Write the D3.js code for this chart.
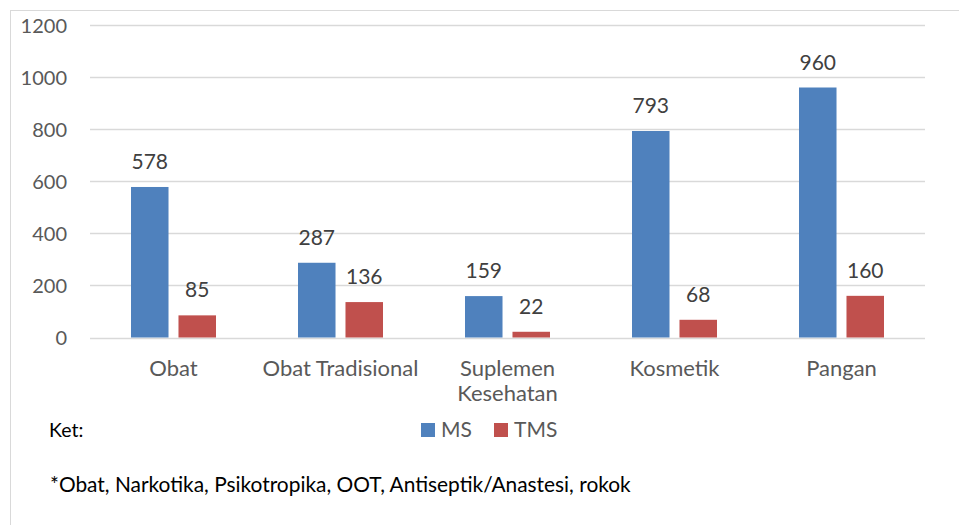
<!doctype html>
<html lang="en">
<head>
    <meta charset="UTF-8">
    <title>MS vs TMS</title>
    <script type="text/javascript" src="https://cdn.jsdelivr.net/npm/d3@7"></script>
    <style type="text/css">
        body { margin: 0; background: #fff; }
        svg { font-family: Lato, sans-serif; }
    </style>
</head>
<body>
<script type="text/javascript">
    var categories = ["Obat", "Obat Tradisional", "Suplemen Kesehatan", "Kosmetik", "Pangan"];
    var categoryLines = [["Obat"], ["Obat Tradisional"], ["Suplemen", "Kesehatan"], ["Kosmetik"], ["Pangan"]];
    var seriesNames = ["MS", "TMS"];
    var msValues = [578, 287, 159, 793, 960];
    var tmsValues = [85, 136, 22, 68, 160];
    var yTicks = [0, 200, 400, 600, 800, 1000, 1200];
    var colors = ["#4F81BD", "#C0504D"];

    var w = 959, h = 525;
    var plotLeft = 90, plotRight = 925, plotTop = 25, plotBottom = 337.5;

    var svg = d3.select("body").append("svg").attr("width", w).attr("height", h);

    // outer frame
    svg.append("rect").attr("x", 10.5).attr("y", 10.5).attr("width", 960).attr("height", 530)
        .attr("fill", "none").attr("stroke", "#d9d9d9").attr("stroke-width", 1);

    var x = d3.scaleBand().domain(categories).range([plotLeft, plotRight]);
    var xInner = d3.scaleBand().domain(seriesNames)
        .range([x.bandwidth() / 2 - 42.5, x.bandwidth() / 2 + 42.5]).paddingInner(0.21);
    var y = d3.scaleLinear().domain([0, 1200]).range([plotBottom, plotTop]);

    // gridlines
    svg.append("g").selectAll("line").data(yTicks).enter().append("line")
        .attr("x1", plotLeft).attr("x2", plotRight)
        .attr("y1", function (d) { return Math.round(y(d)) + 0.5; })
        .attr("y2", function (d) { return Math.round(y(d)) + 0.5; })
        .attr("stroke", "#d9d9d9").attr("stroke-width", 1.3);

    var yAxis = svg.append("g").attr("transform", "translate(67,0)")
        .call(d3.axisLeft(y).tickValues(yTicks).tickFormat(d3.format("d")).tickSize(0).tickPadding(0));
    yAxis.select(".domain").remove();
    yAxis.selectAll("text").attr("font-size", "20px").attr("fill", "#595959")
        .attr("font-family", "Lato, sans-serif").attr("dy", "0.35em");

    var data = categories.map(function (c, i) {
        return {cat: c, vals: [{s: "MS", v: msValues[i]}, {s: "TMS", v: tmsValues[i]}]};
    });

    var groups = svg.append("g").selectAll("g").data(data).enter().append("g")
        .attr("transform", function (d) { return "translate(" + x(d.cat) + ",0)"; });

    groups.selectAll("rect").data(function (d) { return d.vals; }).enter().append("rect")
        .attr("x", function (d) { return xInner(d.s); })
        .attr("width", xInner.bandwidth())
        .attr("y", function (d) { return y(d.v); })
        .attr("height", function (d) { return y(0) - y(d.v); })
        .attr("fill", function (d, i) { return colors[i]; });

    groups.selectAll("text").data(function (d) { return d.vals; }).enter().append("text")
        .text(function (d) { return d.v; })
        .attr("x", function (d) { return xInner(d.s) + xInner.bandwidth() / 2; })
        .attr("y", function (d) { return y(d.v) - 18; })
        .attr("text-anchor", "middle")
        .attr("font-size", "21px")
        .attr("fill", "#404040");

    // category labels
    svg.append("g").selectAll("text").data(categories).enter().append("text")
        .attr("x", function (d) { return x(d) + x.bandwidth() / 2; })
        .attr("y", 376)
        .attr("text-anchor", "middle")
        .attr("font-size", "22px")
        .attr("fill", "#595959")
        .each(function (d, i) {
            var t = d3.select(this);
            categoryLines[i].forEach(function (line, j) {
                t.append("tspan").attr("x", x(d) + x.bandwidth() / 2).attr("dy", j === 0 ? 0 : 25).text(line);
            });
        });

    // legend
    var legendX = [421, 494];
    var legend = svg.append("g").selectAll("g").data(seriesNames).enter().append("g")
        .attr("transform", function (d, i) { return "translate(" + legendX[i] + ",423)"; });
    legend.append("rect").attr("width", 14).attr("height", 14)
        .attr("fill", function (d, i) { return colors[i]; });
    legend.append("text").attr("x", 20).attr("y", 14).text(function (d) { return d; })
        .attr("font-size", "21px").attr("fill", "#595959");

    svg.append("text").attr("x", 49).attr("y", 437).text("Ket:")
        .attr("font-size", "19.5px").attr("fill", "#000");
    svg.append("text").attr("x", 50).attr("y", 492)
        .text("*Obat, Narkotika, Psikotropika, OOT, Antiseptik/Anastesi, rokok")
        .attr("font-size", "20.9px").attr("fill", "#000");
</script>
</body>
</html>
